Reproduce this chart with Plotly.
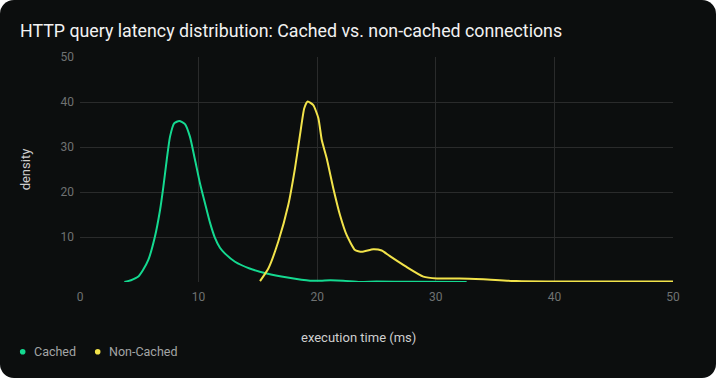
import plotly.graph_objects as go

# Data
cached_x = [3.74, 4.3, 4.92, 5.3, 5.76, 6.32, 6.75, 7.03, 7.31, 7.59, 7.95, 8.37, 8.85, 9.27, 9.70,
            10.12, 10.54, 10.96, 11.38, 11.8, 12.23, 13.07, 14.3, 15.74, 17.5, 19.4, 20.3, 21.1,
            22.2, 23.6, 25.0, 28.0, 32.6]
cached_y = [0, 0.4, 1.2, 2.6, 4.9, 10.1, 16.0, 21.2, 27.1, 32.3, 35.3, 35.8, 35.1, 32.3, 27.1,
            21.9, 17.5, 13.2, 9.8, 7.6, 6.3, 4.5, 3.0, 1.9, 1.0, 0.3, 0.3, 0.4,
            0.3, 0.0, 0.1, 0.05, 0.0]

noncached_x = [15.18, 15.88, 16.72, 17.56, 18.13, 18.55, 18.91, 19.2, 19.67, 20.1, 20.38, 20.8,
               21.36, 21.92, 22.49, 23.19, 23.75, 24.73, 25.44, 26.1, 27.5, 28.95, 30.1, 32.0,
               34.0, 36.8, 40.0, 50.0]
noncached_y = [0.2, 3.0, 9.0, 17.1, 25.3, 32.7, 38.6, 40.1, 39.3, 36.4, 31.6, 27.5,
               20.8, 14.9, 10.4, 7.1, 6.7, 7.3, 7.0, 5.8, 3.4, 1.2, 0.8, 0.8,
               0.6, 0.2, 0.1, 0.1]

series_names = ["Cached", "Non-Cached"]
x_ticks = [0, 10, 20, 30, 40, 50]
y_ticks = [0, 10, 20, 30, 40, 50]
y_tick_labels = ["", "10", "20", "30", "40", "50"]

GREEN = "#14d990"
YELLOW = "#f2e34a"
FONT = "Roboto"

# plot area in pixels (for placing outside-plot elements)
L, R, T, B = 80, 673, 57, 282
def px_x(p):
    return (p - L) / (R - L)
def px_y(p):
    return (B - p) / (B - T)

fig = go.Figure()
for name, xs, ys, col in [(series_names[0], cached_x, cached_y, GREEN),
                          (series_names[1], noncached_x, noncached_y, YELLOW)]:
    fig.add_trace(go.Scatter(x=xs, y=ys, mode="lines", name=name,
                             line=dict(color=col, width=2, shape="spline", smoothing=0.5),
                             showlegend=False, hoverinfo="skip"))

# manual legend (dot + label)
legend_pos = [(22.7, 32), (97.7, 107)]
shapes = []
annotations = []
for name, col, (dx, tx) in zip(series_names, [GREEN, YELLOW], legend_pos):
    r = 2.8
    shapes.append(dict(type="circle", xref="paper", yref="paper",
                       x0=px_x(dx - r), x1=px_x(dx + r), y0=px_y(351.7 + r), y1=px_y(351.7 - r),
                       fillcolor=col, line=dict(width=0)))
    annotations.append(dict(text=name, xref="paper", yref="paper", x=px_x(tx), y=px_y(351.5),
                            xanchor="left", yanchor="middle", showarrow=False,
                            font=dict(size=12.5, color="#a3a5a5", family=FONT)))

annotations.append(dict(text="execution time (ms)", xref="paper", yref="paper",
                        x=px_x(358), y=px_y(337), xanchor="center", yanchor="middle",
                        showarrow=False, font=dict(size=13, color="#cfcfcf", family=FONT)))

fig.update_layout(
    width=716, height=378,
    paper_bgcolor="#0c0e0e", plot_bgcolor="#0c0e0e",
    margin=dict(l=L, r=716 - R, t=T, b=378 - B),
    font=dict(family=FONT, color="#cfcfcf"),
    showlegend=False,
    title=dict(text="HTTP query latency distribution: Cached vs. non-cached connections",
               x=20/716, xanchor="left", xref="container",
               y=1-31/378, yanchor="middle", yref="container",
               font=dict(size=17.8, color="#f2f2f2", family=FONT)),
    xaxis=dict(range=[0, 50], tickvals=x_ticks, showgrid=True, gridcolor="#2a2b2b", gridwidth=1,
               zeroline=False, showline=False, ticks="", tickfont=dict(size=12, color="#6f7272"),
               ticklabelstandoff=6, fixedrange=True),
    yaxis=dict(range=[0, 50], tickvals=y_ticks, ticktext=y_tick_labels, showgrid=True,
               gridcolor="#2a2b2b", gridwidth=1, zeroline=False, showline=False, ticks="",
               tickfont=dict(size=12, color="#6f7272"), ticklabelstandoff=5,
               title=dict(text="density", font=dict(size=13, color="#cfcfcf"), standoff=26),
               fixedrange=True),
    shapes=shapes,
    annotations=annotations,
)

post = """
var d=document.querySelector('.plotly-graph-div');
d.style.borderRadius='14px'; d.style.overflow='hidden';
document.body.style.margin='0'; document.body.style.background='#ffffff';
"""
fig.write_html("out.html", post_script=post, config={"displayModeBar": False})
